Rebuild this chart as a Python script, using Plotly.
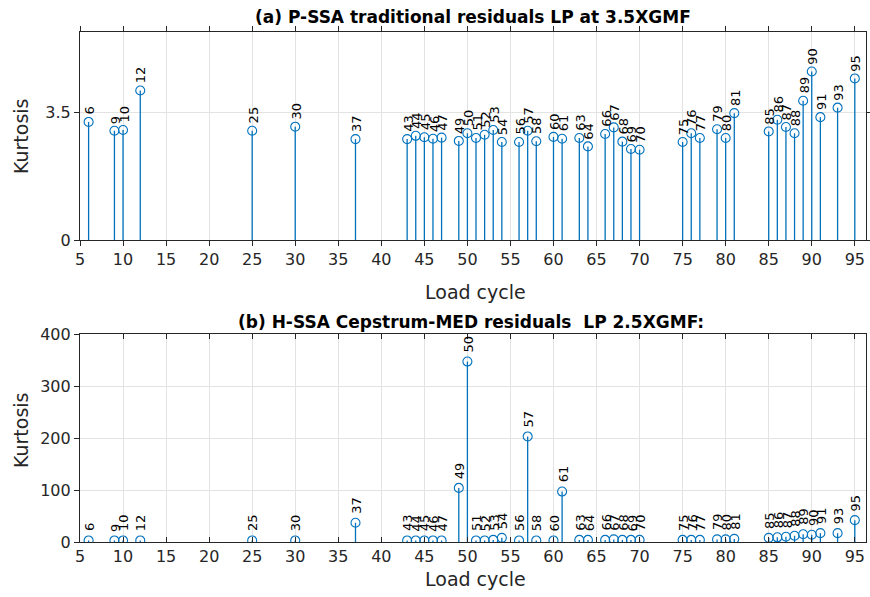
import plotly.graph_objects as go

cycles = [6, 9, 10, 12, 25, 30, 37, 43, 44, 45, 46, 47, 49, 50, 51, 52, 53, 54, 56, 57, 58,
          60, 61, 63, 64, 66, 67, 68, 69, 70, 75, 76, 77, 79, 80, 81, 85, 86, 87, 88, 89, 90,
          91, 93, 95]
kurt_a = [3.23, 2.99, 3.01, 4.09, 2.99, 3.10, 2.76, 2.76, 2.85, 2.81, 2.77, 2.80, 2.71, 2.92,
          2.79, 2.88, 3.01, 2.68, 2.68, 2.99, 2.70, 2.82, 2.77, 2.79, 2.56, 2.90, 3.08, 2.69,
          2.49, 2.47, 2.68, 2.92, 2.79, 3.03, 2.79, 3.47, 2.97, 3.29, 3.09, 2.92, 3.81, 4.61,
          3.36, 3.62, 4.42]
kurt_b = [3, 3, 3, 3, 3, 3, 37, 3, 3, 3, 3, 3, 104, 347, 3, 3, 4, 8, 3, 203, 3, 3, 97, 4, 4,
          4, 5, 4, 4, 4, 4, 4, 4, 5, 5, 6, 8, 9, 10, 12, 15, 14, 17, 17, 42]

title_a = "(a) P-SSA traditional residuals LP at 3.5XGMF"
title_b = "(b) H-SSA Cepstrum-MED residuals  LP 2.5XGMF:"
xlabel = "Load cycle"
ylabel = "Kurtosis"
x_ticks = list(range(5, 100, 5))

BLUE = "#0072BD"
AX = "#262626"
GRID = "#e3e3e3"
FONT = "DejaVu Sans, Verdana, sans-serif"

W, H = 870, 597
fig = go.Figure()

def stems(xs, ys):
    sx, sy = [], []
    for x, y in zip(xs, ys):
        sx += [x, x, None]
        sy += [0, y, None]
    return sx, sy

panels = [
    (kurt_a, "x", "y", 5),
    (kurt_b, "x2", "y2", 7),
]
for vals, xa, ya, shift in panels:
    sx, sy = stems(cycles, vals)
    fig.add_trace(go.Scatter(x=sx, y=sy, mode="lines", xaxis=xa, yaxis=ya,
                             line=dict(color=BLUE, width=1.3), hoverinfo="skip",
                             showlegend=False))
    fig.add_trace(go.Scatter(x=cycles, y=vals, mode="markers", xaxis=xa, yaxis=ya,
                             marker=dict(symbol="circle-open", size=9, color=BLUE,
                                         line=dict(width=1.1, color=BLUE)),
                             showlegend=False))
    for c, v in zip(cycles, vals):
        fig.add_annotation(x=c, y=v, xref=xa, yref=ya, text=str(c), textangle=-90,
                           showarrow=False, xanchor="center", yanchor="bottom",
                           yshift=shift, xshift=1,
                           font=dict(family=FONT, size=13, color="black"))

L, R = 80 / W, 866 / W
top_dom = [1 - 240 / H, 1 - 32 / H]
bot_dom = [1 - 542 / H, 1 - 334 / H]

common = dict(showgrid=True, gridcolor=GRID, gridwidth=1, showline=True, linecolor=AX,
              linewidth=1.2, ticklen=5, tickcolor=AX, zeroline=False, automargin=False,
              tickfont=dict(family=FONT, size=16, color=AX))
fig.update_layout(
    width=W, height=H, margin=dict(l=0, r=0, t=0, b=0, autoexpand=False),
    plot_bgcolor="white", paper_bgcolor="white",
    xaxis=dict(common, range=[5, 96.3], tickvals=x_ticks, domain=[L, R], anchor="y",
               ticks="outside", mirror="ticks"),
    xaxis2=dict(common, range=[5, 96.3], tickvals=x_ticks, domain=[L, R], anchor="y2",
                ticks="inside", mirror="ticks"),
    yaxis=dict(common, range=[0, 5.69], tickvals=[0, 3.5], ticktext=["0", "3.5"],
               domain=top_dom, anchor="x", ticks="outside", mirror="ticks"),
    yaxis2=dict(common, range=[0, 400], tickvals=[0, 100, 200, 300, 400], domain=bot_dom,
                anchor="x2", ticks="outside", mirror=True),
)

def paper_ann(text, x, y, size, bold=False, angle=0):
    fig.add_annotation(text=f"<b>{text}</b>" if bold else text, x=x / W, y=1 - y / H,
                       xref="paper", yref="paper", showarrow=False, textangle=angle,
                       xanchor="center", yanchor="middle",
                       font=dict(family=FONT, size=size, color="black" if bold else AX))

paper_ann(title_a, 473, 17, 17, bold=True)
paper_ann(title_b, 471, 322, 17, bold=True)
paper_ann(xlabel, 475, 292, 19)
paper_ann(xlabel, 475, 579, 19)
paper_ann(ylabel, 21, 136, 19, angle=-90)
paper_ann(ylabel, 21, 430, 19, angle=-90)

fig.write_html("out.html", config={"displayModeBar": False},
               post_script="document.body.style.margin='0';document.body.style.overflow='hidden';")
